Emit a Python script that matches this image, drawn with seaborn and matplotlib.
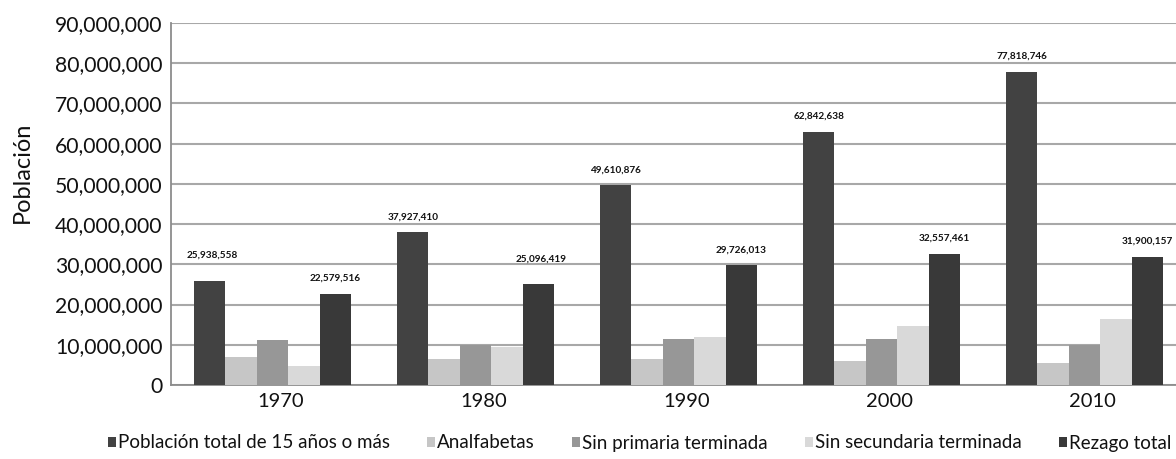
import matplotlib
matplotlib.use("Agg")
import matplotlib.pyplot as plt
import matplotlib.transforms as mtransforms
from matplotlib import font_manager as fm
from matplotlib.patches import Patch
from matplotlib.ticker import MultipleLocator, StrMethodFormatter
import pandas as pd
import seaborn as sns

# Census years and population series (people aged 15+)
years = ["1970", "1980", "1990", "2000", "2010"]
series_names = [
    "Población total de 15 años o más",
    "Analfabetas",
    "Sin primaria terminada",
    "Sin secundaria terminada",
    "Rezago total",
]
poblacion_total = [25938558, 37927410, 49610876, 62842638, 77818746]
analfabetas = [6850000, 6450000, 6400000, 5950000, 5400000]
sin_primaria = [11200000, 9850000, 11500000, 11500000, 9900000]
sin_secundaria = [4700000, 9350000, 12000000, 14700000, 16400000]
rezago_total = [22579516, 25096419, 29726013, 32557461, 31900157]

colors = ["#424242", "#c6c6c6", "#979797", "#d9d9d9", "#393939"]

values = [poblacion_total, analfabetas, sin_primaria, sin_secundaria, rezago_total]
df = pd.DataFrame(
    [(y, s, v) for s, vals in zip(series_names, values) for y, v in zip(years, vals)],
    columns=["year", "serie", "value"],
)

sns.set_theme(style="white")
plt.rcParams["font.family"] = ["Lato", "DejaVu Sans"]
text_color = "#111111"

W, H = 1176, 459
fig = plt.figure(figsize=(W / 100, H / 100), dpi=100)
ax = fig.add_axes([171 / W, 74 / H, 1015 / W, 362 / H])

sns.barplot(
    data=df, x="year", y="value", hue="serie", order=years,
    hue_order=series_names, palette=dict(zip(series_names, colors)),
    width=0.773, saturation=1, errorbar=None, legend=False, ax=ax,
    linewidth=0, zorder=3,
)

ax.set_ylim(0, 90000000)
ax.yaxis.set_major_locator(MultipleLocator(10000000))
ax.yaxis.set_major_formatter(StrMethodFormatter("{x:,.0f}"))
ax.grid(axis="y", color="#a8a8a8", linewidth=1.5, zorder=0)
ax.set_axisbelow(True)

for side in ["top", "right"]:
    ax.spines[side].set_visible(False)
for side in ["left", "bottom"]:
    ax.spines[side].set_color("#8c8c8c")
    ax.spines[side].set_linewidth(1.3)

ax.tick_params(axis="y", which="major", length=3, width=1.3, color="#8c8c8c",
               labelsize=15.2, labelcolor=text_color, pad=3)
ax.tick_params(axis="x", length=0, labelsize=14.5, labelcolor=text_color, pad=6)

offset = mtransforms.ScaledTranslation(8 / 100, 0, fig.dpi_scale_trans)
for lbl in ax.get_xticklabels():
    lbl.set_transform(lbl.get_transform() + offset)

ax.set_xlabel("")
ax.set_ylabel("Población", fontsize=17, color=text_color)
ax.yaxis.set_label_coords(-0.136, 0.588)

# Value labels on the total and "rezago" bars; two of them sit higher
raised = {(0, 0), (4, 1)}
for idx in (0, 4):
    cont = ax.containers[idx]
    anns = ax.bar_label(cont, labels=[f"{v:,}" for v in values[idx]], padding=8,
                        fontsize=7.2, color=text_color, fontweight="bold")
    for j, ann in enumerate(anns):
        if (idx, j) in raised:
            ann.xyann = (2, 15)

handles = [Patch(facecolor=c, edgecolor="none") for c in colors]
fig.legend(
    handles, series_names, loc="center left", bbox_to_anchor=(108 / W, 16 / H),
    ncol=5, frameon=False, borderaxespad=0, borderpad=0,
    handlelength=0.4, handleheight=0.4, handletextpad=0.12,
    columnspacing=2.0,
    prop=fm.FontProperties(family=["Lato", "DejaVu Sans"], size=13.5,
                           weight="regular"),
    labelcolor=text_color,
)

fig.savefig("out.png", dpi=100)
